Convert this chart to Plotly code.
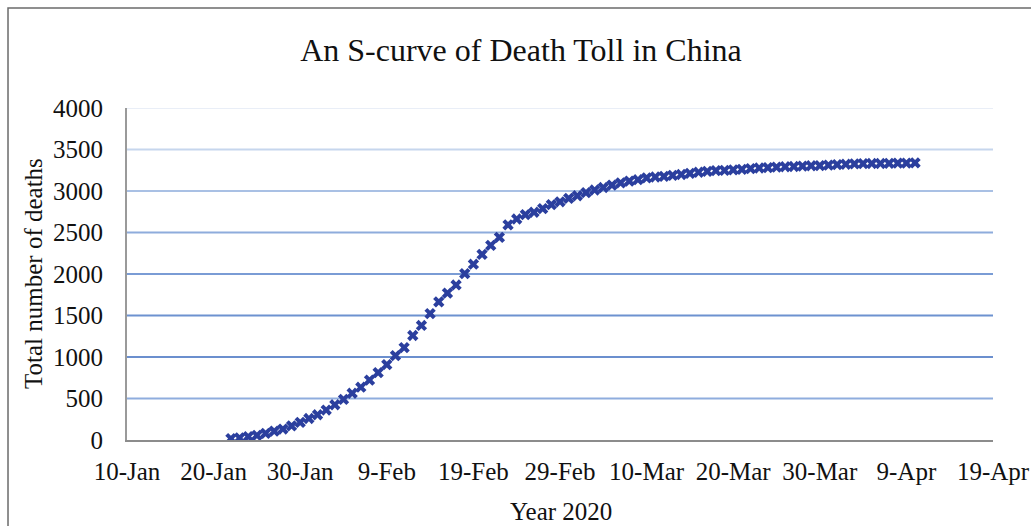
import pandas as pd
import plotly.graph_objects as go

# Cumulative reported deaths in China, one value per day from 22 Jan 2020
start_date = "2020-01-22"
deaths = [
    17, 25, 41, 56, 80, 106, 132, 170, 213, 259,          # 22-31 Jan
    304, 361, 425, 490, 563, 636, 722, 811, 908, 1016,    # 1-10 Feb
    1113, 1259, 1380, 1523, 1665, 1770, 1868, 2004, 2118, 2236,  # 11-20 Feb
    2345, 2442, 2592, 2663, 2715, 2744, 2788, 2835, 2870,  # 21-29 Feb
    2912, 2943, 2981, 3012, 3042, 3070, 3097, 3119, 3136, 3158,  # 1-10 Mar
    3169, 3176, 3189, 3199, 3213, 3226, 3237, 3245, 3248, 3255,  # 11-20 Mar
    3261, 3270, 3277, 3281, 3287, 3292, 3295, 3300, 3304, 3305, 3312,  # 21-31 Mar
    3318, 3322, 3326, 3329, 3331, 3331, 3333, 3335, 3336, 3339,  # 1-10 Apr
]
dates = pd.date_range(start_date, periods=len(deaths), freq="D")

# Axis ticks
x_tick_dates = ["2020-01-10", "2020-01-20", "2020-01-30", "2020-02-09", "2020-02-19",
                "2020-02-29", "2020-03-10", "2020-03-20", "2020-03-30", "2020-04-09",
                "2020-04-19"]
x_tick_labels = ["10-Jan", "20-Jan", "30-Jan", "9-Feb", "19-Feb", "29-Feb",
                 "10-Mar", "20-Mar", "30-Mar", "9-Apr", "19-Apr"]
y_ticks = [0, 500, 1000, 1500, 2000, 2500, 3000, 3500, 4000]

# Gridline shades, lighter towards the top of the plot
grid_colors = {
    500: "#8fadde", 1000: "#6b8fce", 1500: "#6d92d0", 2000: "#7a9cd5",
    2500: "#8eacdc", 3000: "#a9c0e4", 3500: "#c6d6ed", 4000: "#e9eef7",
}

FONT = "Liberation Serif, Times New Roman, serif"
TEXT = "#111111"

fig = go.Figure()
fig.add_trace(go.Scatter(
    x=dates, y=deaths, mode="markers",
    marker=dict(symbol="x", size=10, color="#2b3f9e", line=dict(width=0)),
    showlegend=False,
))

shapes = []
for v, c in grid_colors.items():
    shapes.append(dict(type="line", xref="paper", yref="y", x0=0, x1=1, y0=v, y1=v,
                       line=dict(color=c, width=2), layer="below"))
# chart frame (runs off the right and bottom edges)
shapes.append(dict(type="rect", xref="paper", yref="paper",
                   x0=-0.1374, x1=1.2, y0=1.301, y1=-0.5,
                   line=dict(color="#6b6b6b", width=1.5), layer="below"))

fig.update_layout(
    width=1031, height=526,
    margin=dict(l=127, r=38, t=108, b=86),
    paper_bgcolor="white", plot_bgcolor="white",
    font=dict(family=FONT, size=25, color=TEXT),
    title=dict(text="An S-curve of Death Toll in China",
               font=dict(family=FONT, size=32, color=TEXT),
               x=0.5053, xref="container", xanchor="center",
               y=0.905, yref="container", yanchor="middle"),
    shapes=shapes,
    xaxis=dict(type="date", range=["2020-01-10", "2020-04-19"],
               tickvals=x_tick_dates, ticktext=x_tick_labels,
               showgrid=False, zeroline=False, ticks="", automargin=False,
               showline=True, linecolor="#8c8c8c", linewidth=2,
               tickfont=dict(family=FONT, size=25, color=TEXT),
               ticklabelstandoff=8),
    yaxis=dict(range=[0, 4000], tickvals=y_ticks,
               showgrid=False, zeroline=False, ticks="", automargin=False,
               showline=True, linecolor="#9a9a9a", linewidth=2,
               tickfont=dict(family=FONT, size=25, color=TEXT),
               ticklabelstandoff=17),
    annotations=[
        dict(text="Total number of deaths", xref="paper", yref="paper",
             x=(33 - 127) / 866, y=0.5, textangle=-90, showarrow=False,
             xanchor="center", yanchor="middle",
             font=dict(family=FONT, size=25, color=TEXT)),
        dict(text="Year 2020", xref="paper", yref="paper",
             x=(561 - 127) / 866, y=(440 - 511) / 332, showarrow=False,
             xanchor="center", yanchor="middle",
             font=dict(family=FONT, size=25, color=TEXT)),
    ],
)

fig.write_html("out.html")
